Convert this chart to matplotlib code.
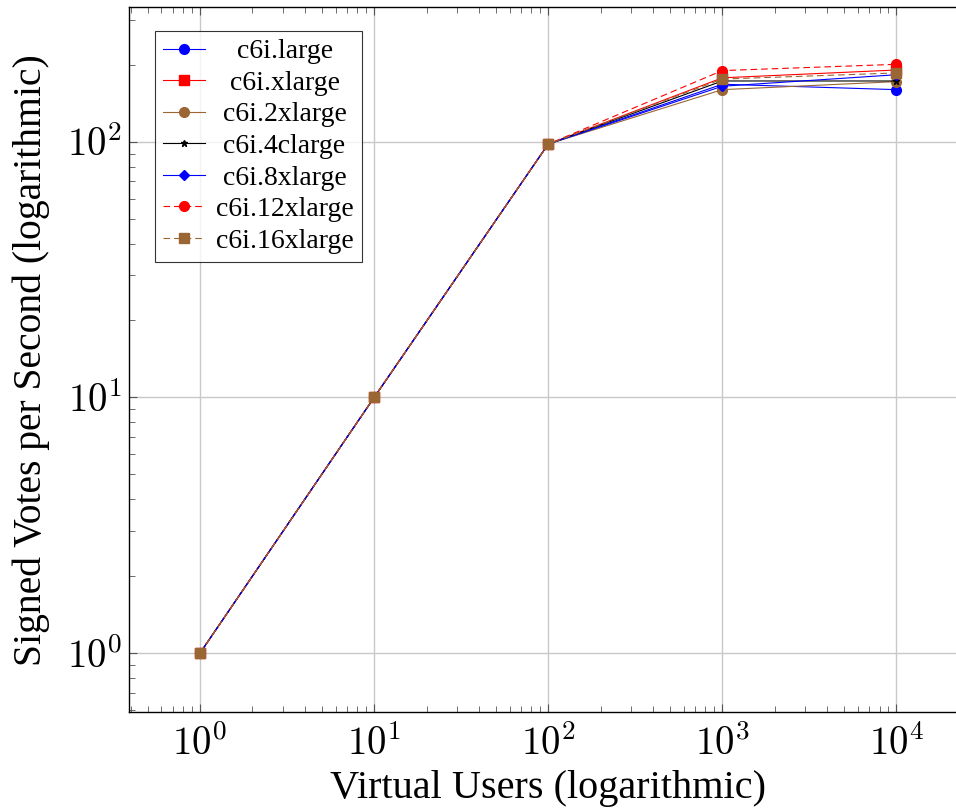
import matplotlib
matplotlib.use("Agg")
import matplotlib.pyplot as plt
from matplotlib.ticker import LogLocator, FixedLocator, FuncFormatter, NullFormatter
import numpy as np

# virtual users and measured throughput per instance type
users = [1, 10, 100, 1000, 10000]
c6i_large = [1, 10, 98, 168, 160]
c6i_xlarge = [1, 10, 98, 178, 191]
c6i_2xlarge = [1, 10, 98, 160, 172]
c6i_4clarge = [1, 10, 98, 173, 173]
c6i_8xlarge = [1, 10, 98, 165, 183]
c6i_12xlarge = [1, 10, 98, 190, 201]
c6i_16xlarge = [1, 10, 98, 176, 186]

names = ["c6i.large", "c6i.xlarge", "c6i.2xlarge", "c6i.4clarge",
         "c6i.8xlarge", "c6i.12xlarge", "c6i.16xlarge"]
series = [c6i_large, c6i_xlarge, c6i_2xlarge, c6i_4clarge,
          c6i_8xlarge, c6i_12xlarge, c6i_16xlarge]

brown = "#9a6633"
dash = (0, (6, 3.5))
styles = [
    dict(color="#0000ff", marker="o", ls="-"),
    dict(color="#ff0000", marker="s", ls="-"),
    dict(color=brown, marker="o", ls="-"),
    dict(color="black", marker="*", ls="-", ms=5),
    dict(color="#0000ff", marker="D", ls="-", ms=5),
    dict(color="#ff0000", marker="o", ls=dash),
    dict(color=brown, marker="s", ls=dash),
]

plt.rcParams["font.family"] = "Liberation Serif"
plt.rcParams["mathtext.fontset"] = "cm"

fig = plt.figure(figsize=(9.56, 8.1), dpi=100)
ax = fig.add_axes([0.135, 0.121, 0.877, 0.870])

# pad legend labels so they look centred like the pgfplots legend
legend_fs = 20
renderer = fig.canvas.get_renderer()
widths = []
for n in names:
    t = fig.text(0, 0, n, fontsize=legend_fs)
    widths.append(t.get_window_extent(renderer).width)
    t.remove()
sp = fig.text(0, 0, "a a", fontsize=legend_fs)
sw = sp.get_window_extent(renderer).width
sp.remove()
aw = fig.text(0, 0, "aa", fontsize=legend_fs)
sw = sw - aw.get_window_extent(renderer).width
aw.remove()
maxw = max(widths)
labels = [" " * int(round((maxw - w) / 2 / sw)) + n for n, w in zip(names, widths)]

for lab, vals, st in zip(labels, series, styles):
    st = dict(st)
    ms = st.pop("ms", 7)
    ax.plot(users, vals, label=lab, lw=0.8, ms=ms, **st)

ax.set_xscale("log")
ax.set_yscale("log")
ax.set_xlim(0.391, 2.56e4)
ax.set_ylim(0.588, 336)

fmt = FuncFormatter(lambda v, p: r"$10^{%d}$" % int(round(np.log10(v))))
ax.xaxis.set_major_locator(LogLocator(base=10, numticks=10))
ax.yaxis.set_major_locator(LogLocator(base=10, numticks=10))
ax.xaxis.set_major_formatter(fmt)
ax.yaxis.set_major_formatter(fmt)
# minor x ticks stop at the last decade, as in the original
ax.xaxis.set_minor_locator(FixedLocator([k * 10.0 ** e for e in range(-1, 4) for k in range(2, 10)]))
ax.yaxis.set_minor_locator(LogLocator(base=10, subs=range(2, 10), numticks=20))
ax.xaxis.set_minor_formatter(NullFormatter())
ax.yaxis.set_minor_formatter(NullFormatter())

ax.tick_params(which="both", direction="in", top=True, right=False,
               color="#555555", labelsize=28)
ax.tick_params(which="major", length=6, width=0.8)
ax.tick_params(which="minor", length=4, width=0.6)
ax.tick_params(axis="x", which="major", pad=10)
ax.tick_params(axis="y", which="major", pad=5)
ax.grid(True, which="major", color="#c8c8c8", lw=1)
for s in ax.spines.values():
    s.set_linewidth(1)

ax.set_xlabel("Virtual Users (logarithmic)", fontsize=29, labelpad=4)
ax.set_ylabel("Signed Votes per Second (logarithmic)", fontsize=28.5, labelpad=12)

leg = ax.legend(loc="upper left", bbox_to_anchor=(0.0305, 0.967), fontsize=legend_fs,
                frameon=True, fancybox=False, edgecolor="black",
                borderpad=0.3, labelspacing=0.22, handlelength=1.5,
                handletextpad=0.4, borderaxespad=0)
leg.get_frame().set_linewidth(0.8)

fig.savefig("out.png", dpi=100)
